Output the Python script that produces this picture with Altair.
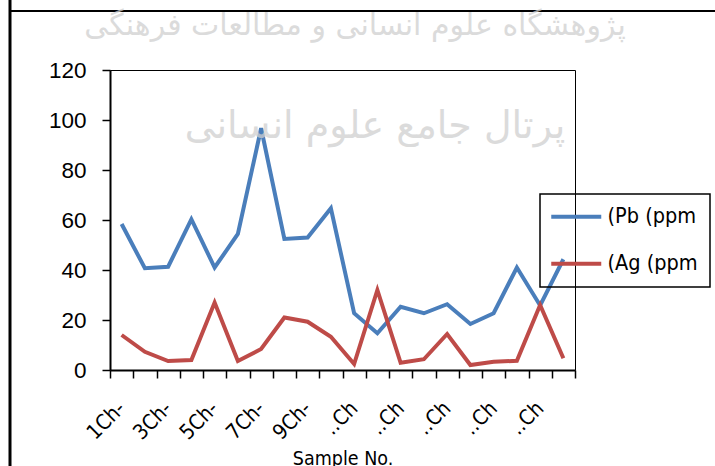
import json

import altair as alt
import pandas as pd

# Sample positions along the x axis and their printed tick labels
samples = list(range(1, 21))
tick_labels = ["1Ch-", "", "3Ch-", "", "5Ch-", "", "7Ch-", "", "9Ch-", "",
               "..Ch", "", "..Ch", "", "..Ch", "", "..Ch", "", "..Ch", ""]

# Concentrations (ppm) per sample
pb_ppm = [58.4, 40.7, 41.3, 60.3, 41.0, 54.4, 96.7, 52.4, 53.0, 64.7,
          22.7, 14.7, 25.3, 22.7, 26.3, 18.4, 22.7, 41.0, 25.8, 44.3]
ag_ppm = [14.0, 7.3, 3.6, 4.0, 27.0, 3.6, 8.4, 21.0, 19.3, 13.3,
          2.4, 32.0, 2.9, 4.3, 14.4, 2.0, 3.3, 3.7, 26.0, 4.7]

series_names = ["(Pb (ppm", "(Ag (ppm"]
series_colors = ["#4A7EBB", "#BE4B48"]
y_ticks = [0, 20, 40, 60, 80, 100, 120]

watermark_top = ["پژوهشگاه علوم انسانی و مطالعات فرهنگی"]
watermark_mid = ["پرتال جامع علوم انسانی"]

rows = []
for s, pb, ag in zip(samples, pb_ppm, ag_ppm):
    rows.append({"sample": s, "series": series_names[0], "value": pb})
    rows.append({"sample": s, "series": series_names[1], "value": ag})
df = pd.DataFrame(rows)

label_expr = json.dumps(tick_labels) + "[datum.value - 1]"
text_font = "DejaVu Sans Condensed, DejaVu Sans"

lines = alt.Chart(df).mark_line(strokeWidth=4).encode(
    x=alt.X(
        "sample:O",
        scale=alt.Scale(type="band", paddingInner=0, paddingOuter=0),
        axis=alt.Axis(
            title="Sample No.",
            titleFont=text_font,
            titleFontSize=19.5,
            titleFontWeight="normal",
            titleColor="black",
            titleBaseline="alphabetic",
            titleY=94,
            labelExpr=label_expr,
            labelAngle=-45,
            labelAlign="right",
            labelBaseline="middle",
            labelFont=text_font,
            labelFontSize=21,
            labelColor="black",
            labelPadding=27,
            labelOverlap=False,
            tickBand="extent",
            tickSize=8,
            tickWidth=1.5,
            tickColor="black",
            domainColor="black",
            domainWidth=2,
        ),
    ),
    y=alt.Y(
        "value:Q",
        scale=alt.Scale(domain=[0, 120], nice=False),
        axis=alt.Axis(
            title=None,
            values=y_ticks,
            grid=False,
            labelFont="Liberation Sans",
            labelFontSize=22.5,
            labelColor="black",
            labelPadding=16,
            tickSize=8,
            tickWidth=1.5,
            tickColor="black",
            domainColor="black",
            domainWidth=2,
        ),
    ),
    color=alt.Color(
        "series:N",
        scale=alt.Scale(domain=series_names, range=series_colors),
        legend=alt.Legend(
            title=None,
            orient="none",
            legendX=430,
            legendY=124,
            padding=12,
            strokeColor="black",
            symbolType="M-2.3,0H7.7",
            symbolSize=100,
            symbolStrokeWidth=4,
            symbolOffset=0,
            labelOffset=34,
            labelFont=text_font,
            labelFontSize=21.5,
            labelColor="black",
            labelLimit=0,
            rowPadding=24,
        ),
    ),
)

one = alt.Data(values=[{}])

frame_left = alt.Chart(one).mark_rule(color="black", strokeWidth=3).encode(
    x=alt.value(-100), y=alt.value(-80), y2=alt.value(420)
)
frame_top = alt.Chart(one).mark_rule(color="black", strokeWidth=2).encode(
    x=alt.value(-101), x2=alt.value(640), y=alt.value(-59)
)

wm_top = alt.Chart(alt.Data(values=[{"t": t} for t in watermark_top])).mark_text(
    font="DejaVu Sans", fontSize=30, color="#cfcfcf", opacity=0.75
).encode(text="t:N", x=alt.value(245), y=alt.value(-44))
wm_mid = alt.Chart(alt.Data(values=[{"t": t} for t in watermark_mid])).mark_text(
    font="DejaVu Sans", fontSize=38, color="#cfcfcf", opacity=0.75
).encode(text="t:N", x=alt.value(265), y=alt.value(57))

chart = alt.layer(frame_left, frame_top, lines, wm_top, wm_mid).properties(
    width=465,
    height=300,
    padding={"left": 110, "top": 70, "right": 140, "bottom": 96},
    autosize=alt.AutoSizeParams(type="none"),
    background="white",
).configure_view(stroke="black", strokeWidth=1).configure_legend(strokeWidth=1.5)

chart.save("out.html", embed_options={"renderer": "svg", "actions": False})
